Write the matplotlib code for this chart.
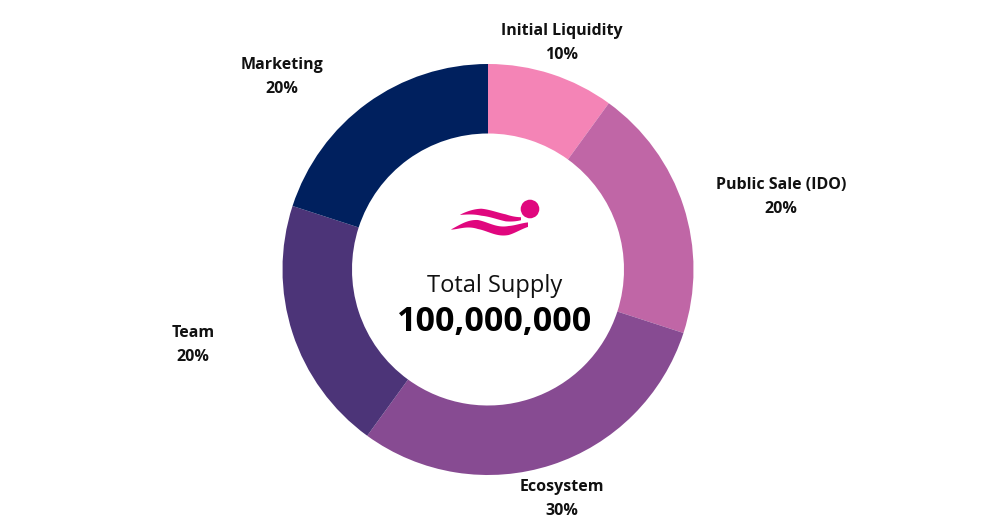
import numpy as np
import matplotlib
matplotlib.use("Agg")
import matplotlib.pyplot as plt
from matplotlib.patches import Circle, Polygon

categories = ["Initial Liquidity", "Public Sale (IDO)", "Ecosystem", "Team", "Marketing"]
shares = [10, 20, 30, 20, 20]
colors = ["#F484B6", "#C066A6", "#874B92", "#4C3478", "#00205E"]
total_label = "Total Supply"
total_value = "100,000,000"

# label anchor positions (figure pixels, centre of the two-line label)
label_pos = [(562, 43), (781, 197), (562, 499), (193, 345), (282, 77)]

W, H = 997, 525
fig = plt.figure(figsize=(W / 100, H / 100), dpi=100)
ax = fig.add_axes([0, 0, 1, 1])

cx, cy, R = 488, 269.5, 205.5
ring = 69.5
# y axis is inverted below, so counterclockwise in data = clockwise on screen
ax.pie(shares, colors=colors, startangle=-90, counterclock=True,
       center=(cx, cy), radius=R, frame=True,
       wedgeprops=dict(width=ring, linewidth=0))
ax.set_xlim(0, W)
ax.set_ylim(H, 0)
ax.set_aspect("equal")
ax.axis("off")

font = "Open Sans"
for name, val, (lx, ly) in zip(categories, shares, label_pos):
    ax.text(lx, ly, f"{name}\n{val}%", ha="center", va="center",
            fontsize=11.5, fontweight="bold", family=font, color="#111111",
            linespacing=1.65)

ax.text(cx + 7, 286, total_label, ha="center", va="center", fontsize=17,
        family=font, color="#111111")
ax.text(cx + 7, 322, total_value, ha="center", va="center", fontsize=24.5,
        fontweight="bold", family=font, color="#000000")

# logo
mag = "#E0077E"
ax.add_patch(Circle((530, 209), 9.3, color=mag, lw=0))

def band(x0, x1, yc, amp, thick, t_crest, half, end_th):
    xs = np.linspace(x0, x1, 120)
    t = (xs - x0) / (x1 - x0)
    yc_ = yc - amp * np.sin(np.pi * (t - t_crest) / half + np.pi / 2)
    th = thick * np.clip(t / 0.35, 0, 1) ** 0.8
    th = np.minimum(th, end_th + (thick - end_th) * np.clip((1 - t) / 0.25, 0, 1))
    top = np.column_stack([xs, yc_ - th / 2])
    bot = np.column_stack([xs[::-1], (yc_ + th / 2)[::-1]])
    return np.vstack([top, bot])

ax.add_patch(Polygon(band(460, 521, 215.5, 3.5, 7, 0.28, 0.64, 3), closed=True, color=mag, lw=0))
ax.add_patch(Polygon(band(451, 528, 227.5, 3.5, 9, 0.28, 0.40, 4.5), closed=True, color=mag, lw=0))

fig.savefig("out.png", dpi=100, facecolor="white")
